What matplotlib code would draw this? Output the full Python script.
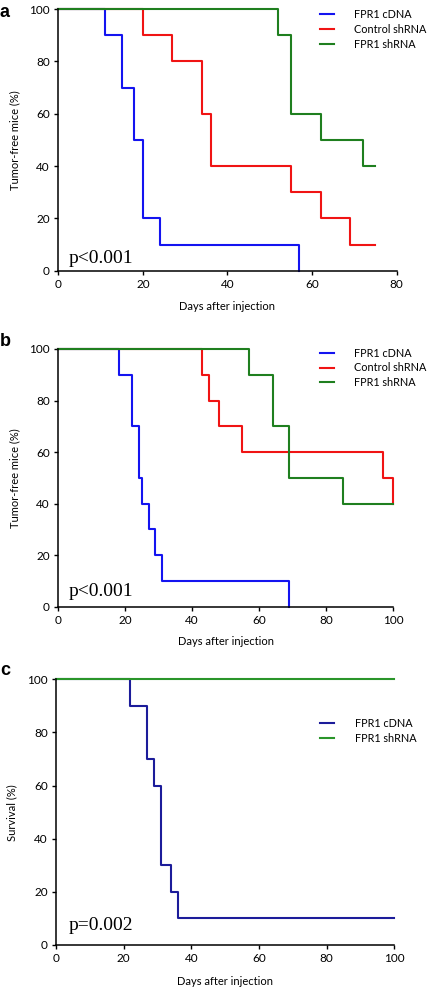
import matplotlib
matplotlib.use('Agg')
import matplotlib.pyplot as plt

# --- data (step points: time of each drop, value after the drop) ---
# panel a
a_cdna_t = [0, 11, 15, 18, 20, 24, 57]
a_cdna_v = [100, 90, 70, 50, 20, 10, 0]
a_ctrl_t = [0, 20, 27, 34, 36, 55, 62, 69, 75]
a_ctrl_v = [100, 90, 80, 60, 40, 30, 20, 10, 10]
a_sh_t = [0, 52, 55, 62, 72, 75]
a_sh_v = [100, 90, 60, 50, 40, 40]

# panel b
b_cdna_t = [0, 18, 22, 24, 25, 27, 29, 31, 69]
b_cdna_v = [100, 90, 70, 50, 40, 30, 20, 10, 0]
b_ctrl_t = [0, 43, 45, 48, 55, 97, 100]
b_ctrl_v = [100, 90, 80, 70, 60, 50, 40]
b_sh_t = [0, 57, 64, 69, 85, 100]
b_sh_v = [100, 90, 70, 50, 40, 40]

# panel c
c_cdna_t = [0, 22, 27, 29, 31, 34, 36, 100]
c_cdna_v = [100, 90, 70, 60, 30, 20, 10, 10]
c_sh_t = [0, 100]
c_sh_v = [100, 100]

font = 'Lato'
tick_fs = 8.5
lab_fs = 8
leg_fs = 7.8
lw = 1.5

fig = plt.figure(figsize=(4.32, 9.92), dpi=100)


def setup(ax, xmax, ylab, pval, px, py):
    ax.set_xlim(0, xmax)
    ax.set_ylim(0, 100)
    ax.set_xticks(range(0, xmax + 1, 20))
    ax.set_yticks(range(0, 101, 20))
    for s in ['top', 'right']:
        ax.spines[s].set_visible(False)
    for s in ['left', 'bottom']:
        ax.spines[s].set_linewidth(1.1)
    ax.tick_params(direction='out', length=3, width=1, labelsize=tick_fs, pad=3)
    for lab in ax.get_xticklabels() + ax.get_yticklabels():
        lab.set_fontfamily(font)
    ax.set_xlabel('Days after injection', fontsize=lab_fs, family=font)
    ax.set_ylabel(ylab, fontsize=lab_fs, family=font)
    ax.xaxis.set_label_coords(0.5, -0.115)
    ax.yaxis.set_label_coords(-0.113, 0.5)
    ax.text(px, py, pval, transform=ax.transAxes, family='Liberation Serif',
            fontsize=14, va='baseline', ha='left')
    for ln in ax.get_lines():
        ln.set_clip_on(False)


def add_legend(ax, anchor):
    ax.legend(loc='upper left', bbox_to_anchor=anchor, frameon=False,
              handlelength=1.3, handletextpad=1.9, labelspacing=0.35,
              borderpad=0, borderaxespad=0, prop={'family': font, 'size': leg_fs})


blue = '#1414f0'
red = '#f01414'
green = '#1f7f1f'

ax1 = fig.add_axes([0.135, 0.7271, 0.7831, 0.2638])
ax1.step(a_cdna_t, a_cdna_v, where='post', color=blue, lw=lw, label='FPR1 cDNA')
ax1.step(a_ctrl_t, a_ctrl_v, where='post', color=red, lw=lw, label='Control shRNA')
ax1.step(a_sh_t, a_sh_v, where='post', color=green, lw=lw, label='FPR1 shRNA')
setup(ax1, 80, 'Tumor-free mice (%)', 'p<0.001', 0.029, 0.031)
add_legend(ax1, (0.773, 1.0))

ax2 = fig.add_axes([0.135, 0.3884, 0.7747, 0.2598])
ax2.step(b_cdna_t, b_cdna_v, where='post', color=blue, lw=lw, label='FPR1 cDNA')
ax2.step(b_ctrl_t, b_ctrl_v, where='post', color=red, lw=lw, label='Control shRNA')
ax2.step(b_sh_t, b_sh_v, where='post', color=green, lw=lw, label='FPR1 shRNA')
setup(ax2, 100, 'Tumor-free mice (%)', 'p<0.001', 0.03, 0.0415)
add_legend(ax2, (0.781, 1.005))

ax3 = fig.add_axes([0.1296, 0.0474, 0.7831, 0.2678])
ax3.step(c_cdna_t, c_cdna_v, where='post', color='#1c1c9a', lw=lw, label='FPR1 cDNA')
ax3.step(c_sh_t, c_sh_v, where='post', color='#2a952a', lw=lw, label='FPR1 shRNA')
setup(ax3, 100, 'Survival (%)', 'p=0.002', 0.036, 0.056)
add_legend(ax3, (0.78, 0.855))

for letter, y in [('a', 0.996), ('b', 0.664), ('c', 0.333)]:
    fig.text(0.0, y, letter, family='Liberation Sans', fontweight='bold',
             fontsize=13, va='top', ha='left')

fig.savefig('out.png', dpi=100)
